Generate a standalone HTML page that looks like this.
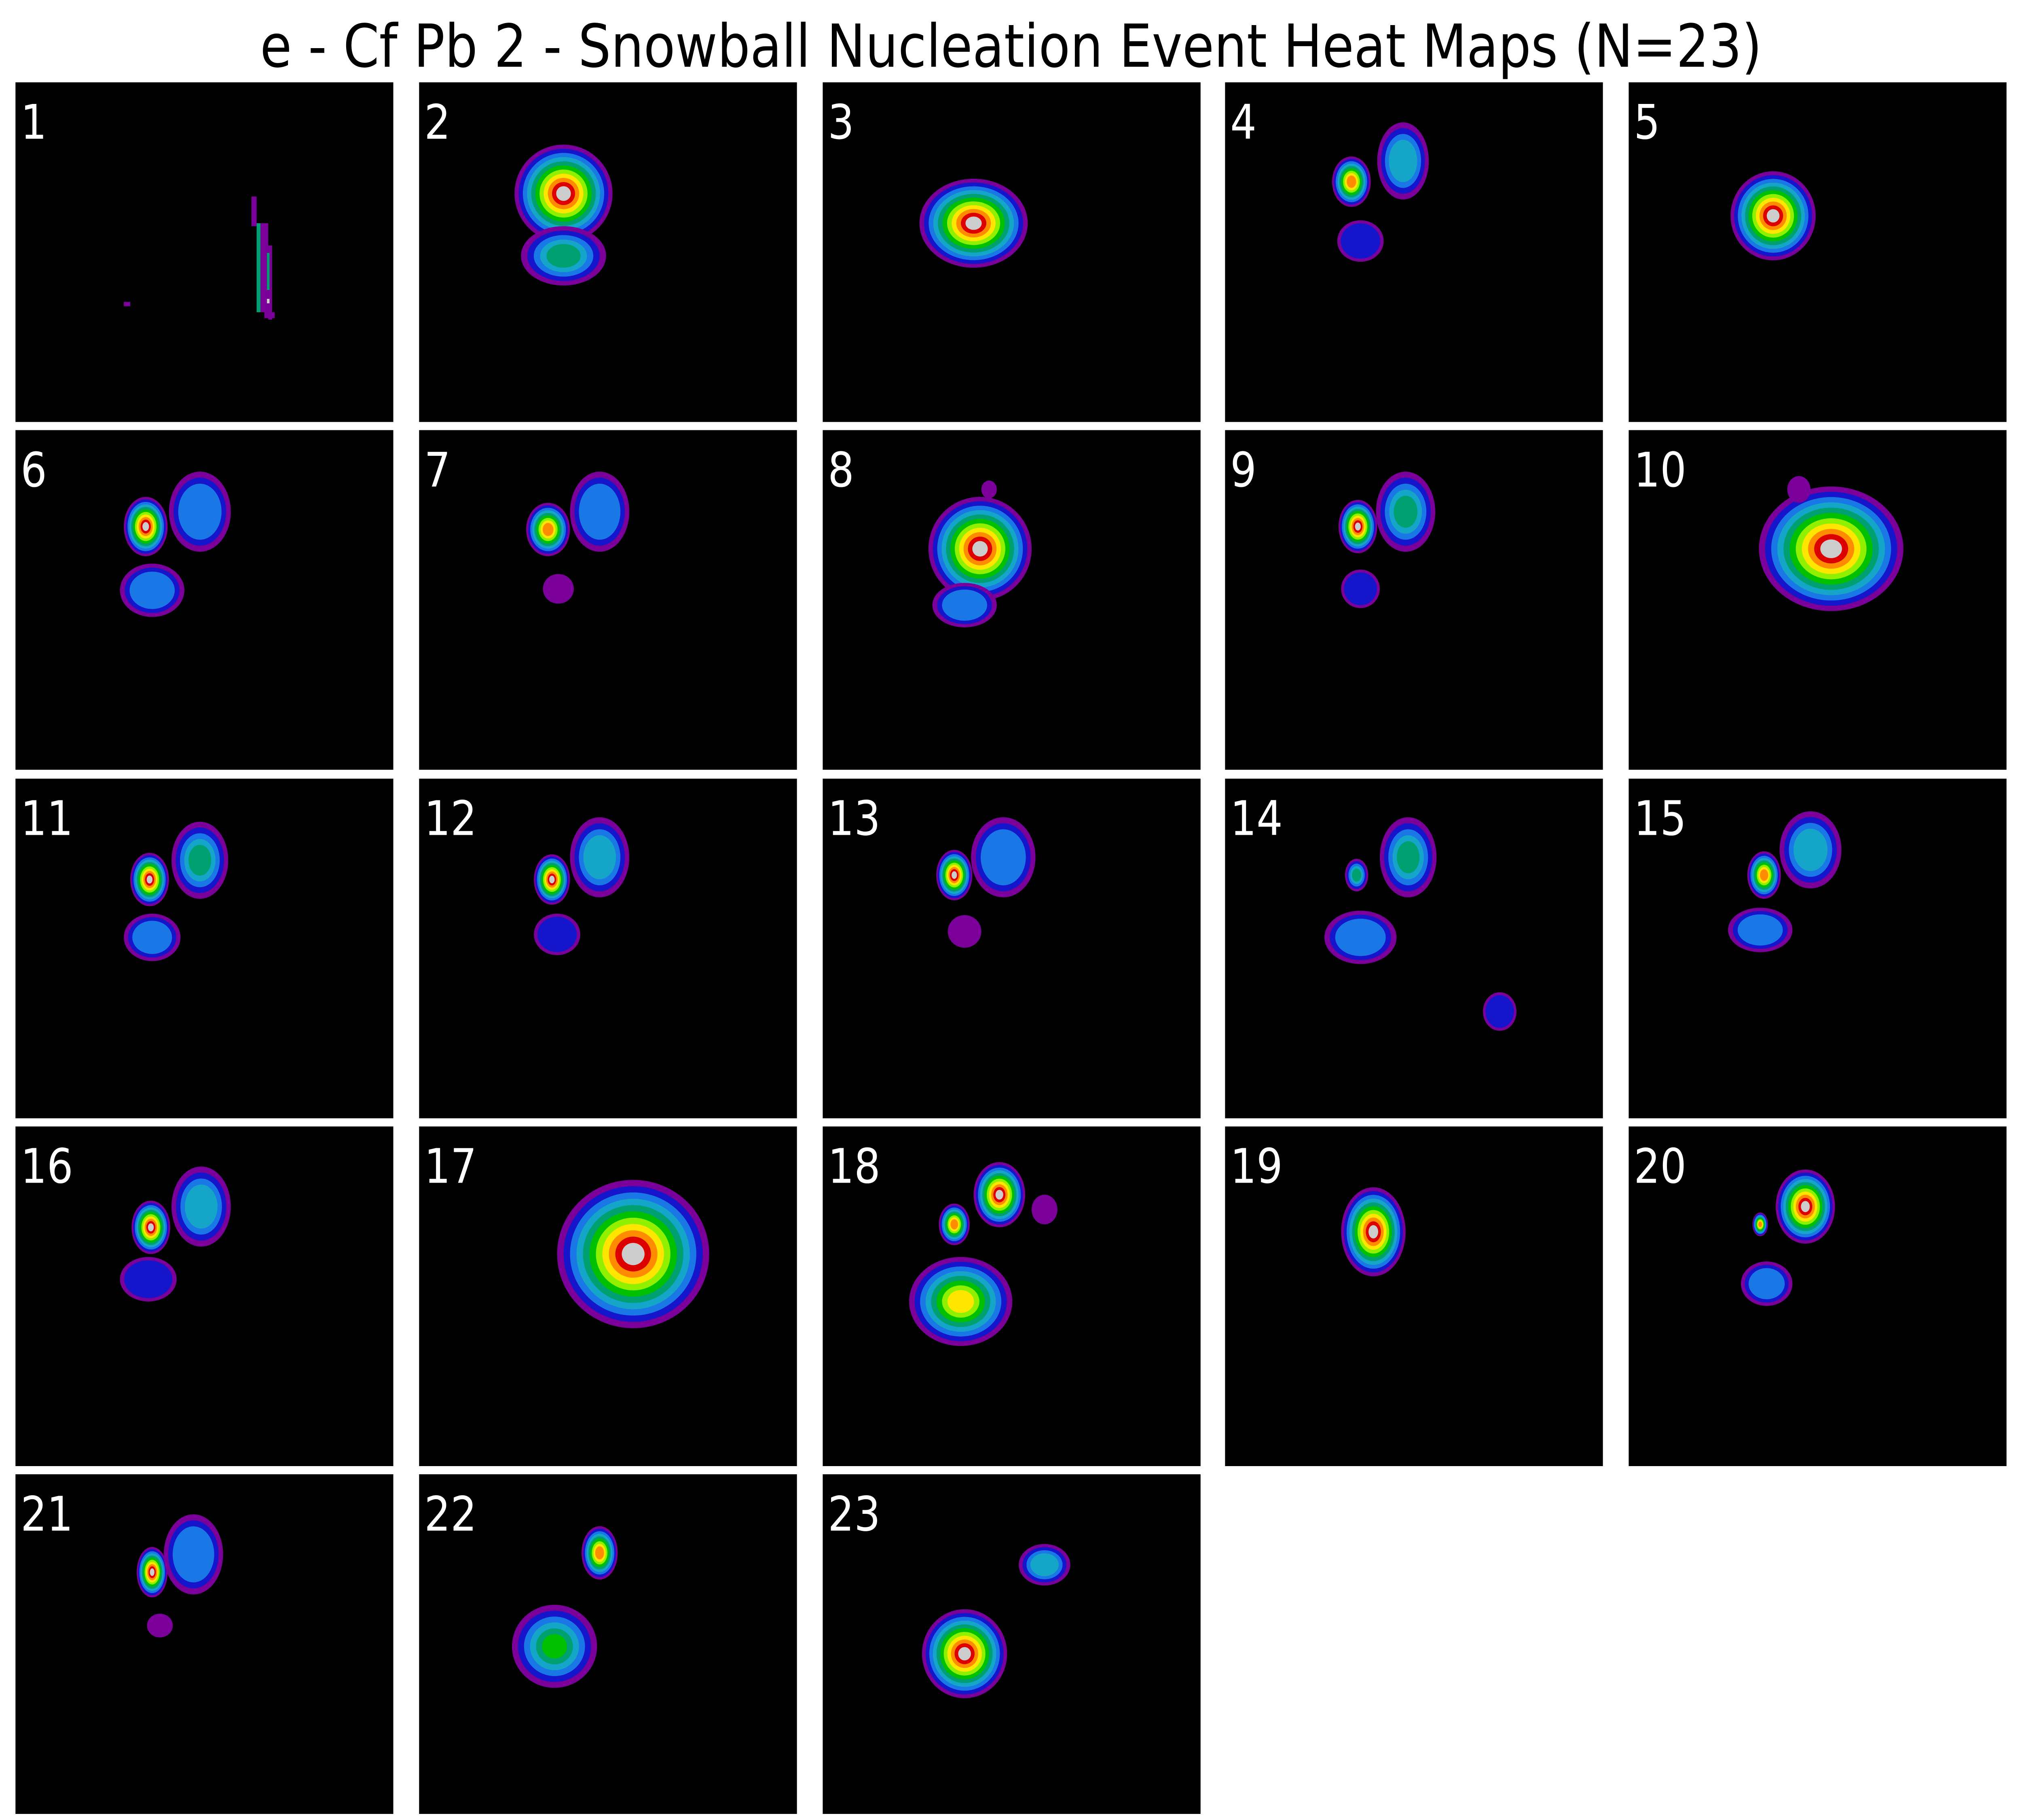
<!DOCTYPE html>
<html><head><meta charset="utf-8">
<style>
html,body{margin:0;padding:0;background:#fff;width:100%;height:100%;overflow:hidden;}
svg{display:block;position:absolute;left:0;top:0;width:100vw;height:100vh;}
</style></head>
<body>
<svg id="chart" viewBox="0 0 1568 1227.1" preserveAspectRatio="none" xmlns="http://www.w3.org/2000/svg">
<text x="784" y="45" text-anchor="middle" font-family="DejaVu Sans, Liberation Sans, sans-serif" font-size="40" fill="#000">e - Cf Pb 2 - Snowball Nucleation Event Heat Maps (N=23)</text>
<g id="panels"></g>
</svg>
<script>
// panel grid
const colX = [12, 325, 638, 950, 1263];
const rowY = [55.5, 290, 525, 759.5, 994];
const panelW = 293, panelH = 229;
const panelLabels = ["1","2","3","4","5","6","7","8","9","10","11","12","13","14","15","16","17","18","19","20","21","22","23"];
// colour levels (low -> high)
const levels = ["#7a0099","#1515cc","#1a78e6","#15a5c8","#00a070","#00c000","#90f000","#ffe600","#ff8c00","#dd0000","#cccccc"];
// blobs: panel, centre x, centre y (panel-local), rx, ry, top level
const blobPanel = [2,2,3,4,4,4,5,6,6,6,7,7,7,8,8,8,10,10,9,9,9,11,11,11,12,12,12,13,13,13,14,14,14,14,15,15,15,16,16,16,17,18,18,18,18,19,20,20,20,21,21,21,22,22,23,23];
const blobCx = [112,112,117,98,138,105,112,101,143,106,100,140,108,122,110,129,157,132,103,140,105,104,143,106,103,140,107,102,140,110,102,142,105,213,105,141,102,105,144,103,166,102,137,172,107,115,137,102,107,106,138,112,140,105,110,172];
const blobCy = [75,117,95,67,53,107,90,65,55,108,67,55,107,80,118,40,80,40,65,55,107,68,55,107,68,53,105,65,53,103,65,53,107,157,65,48,102,68,54,103,86,66,46,56,118,71,54,66,106,66,54,102,53,116,121,61];
const blobRx = [38,33,42,15,20,18,33,17,24,25,17,23,12,40,25,6,56,9,15,23,15,15,22,22,14,23,18,14,25,13,9,22,28,13,13,24,25,15,23,22,59,12,20,10,40,25,23,6,20,12,23,10,14,33,33,20];
const blobRy = [33,20,30,17,26,14,30,20,27,18,18,27,10,35,15,6,42,9,18,27,13,18,26,16,17,27,14,17,27,11,11,27,18,13,16,26,15,18,27,15,50,14,22,10,30,30,25,8,15,17,27,8,18,28,30,14];
const blobTop = [9,4,9,8,3,1,9,9,2,2,8,2,0,9,2,0,9,0,9,4,1,9,4,2,9,3,1,9,2,0,4,4,2,1,8,3,2,9,3,1,9,8,9,0,7,9,9,8,2,9,2,0,8,5,9,3];
</script>
<script>
(function(){
  const NS = "http://www.w3.org/2000/svg";
  const g = document.getElementById("panels");
  for (let i = 0; i < panelLabels.length; i++) {
    const r = Math.floor(i/5), c = i%5;
    const x0 = colX[c], y0 = rowY[r];
    const pg = document.createElementNS(NS, "g");
    pg.setAttribute("transform", "translate(" + x0 + "," + y0 + ")");
    
    
    const bg = document.createElementNS(NS, "rect");
    bg.setAttribute("width", panelW); bg.setAttribute("height", panelH); bg.setAttribute("fill", "#000");
    
    
    pg.appendChild(bg);
    for (let b = 0; b < blobPanel.length; b++) {
      if (blobPanel[b] !== i+1) continue;
      const top = blobTop[b];
      const n = top + 1;
      const step = Math.min(0.15, 0.85 / n);
      const last = top >= 9 ? 10 : top;
      for (let k = 0; k <= last; k++) {
        const s = 1 - k * step;
        const e = document.createElementNS(NS, "ellipse");
        e.setAttribute("cx", blobCx[b]); e.setAttribute("cy", blobCy[b]);
        e.setAttribute("rx", blobRx[b]*s); e.setAttribute("ry", blobRy[b]*s);
        e.setAttribute("fill", levels[k]);
        
        
        pg.appendChild(e);
      }
    }
    if (i === 0) {
      const streak = [[183,77,4,20,"#7a0099"],[187,95,3,60,"#00a070"],[190,95,6,60,"#7a0099"],[196,110,3,50,"#7a0099"],[195,115,2,25,"#00a070"],[193,155,8,4,"#7a0099"],[84,148,5,3,"#7a0099"],[195,146,2,3,"#cccccc"]];
      streak.forEach(s => {
        const rr = document.createElementNS(NS, "rect");
        rr.setAttribute("x", s[0]); rr.setAttribute("y", s[1]); rr.setAttribute("width", s[2]); rr.setAttribute("height", s[3]); rr.setAttribute("fill", s[4]);
        
        
        pg.appendChild(rr);
      });
    }
    const t = document.createElementNS(NS, "text");
    t.setAttribute("x", 4); t.setAttribute("y", 38);
    t.setAttribute("fill", "#fff");
    t.setAttribute("font-size", "32");
    t.setAttribute("font-family", "DejaVu Sans, Liberation Sans, sans-serif");
    t.textContent = panelLabels[i];
    
    
    pg.appendChild(t);
    g.appendChild(pg);
  }
})();
</script>
</body></html>
